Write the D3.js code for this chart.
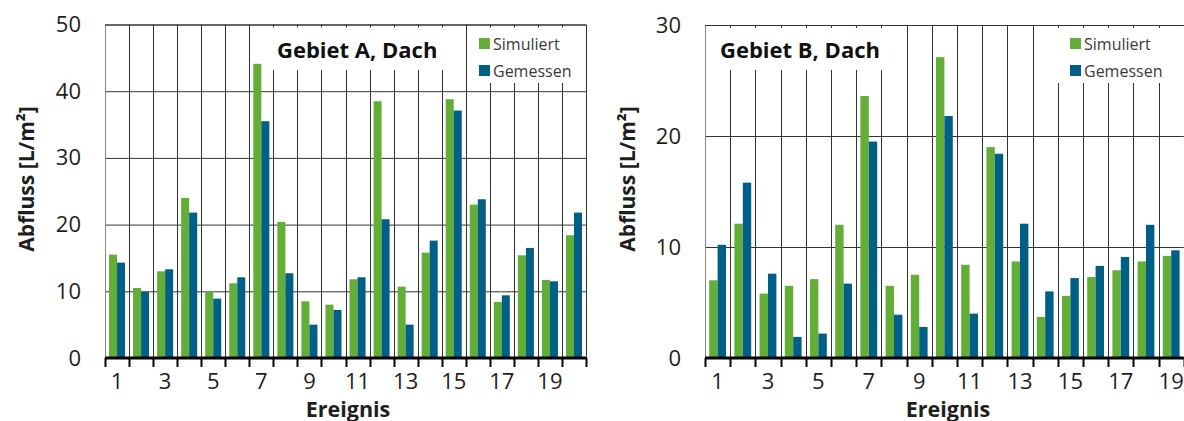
<!DOCTYPE html>
<html>
<head>
<meta charset="utf-8">
<script src="https://cdn.jsdelivr.net/npm/d3@7"></script>
<style>
  body { margin: 0; background: #fff; }
  text { font-family: "Open Sans", sans-serif; }
</style>
</head>
<body>
<svg id="canvas"></svg>
<script>
"use strict";

// Ereignis-Nummern
const ereignisA = [1, 2, 3, 4, 5, 6, 7, 8, 9, 10, 11, 12, 13, 14, 15, 16, 17, 18, 19, 20];
const ereignisB = [1, 2, 3, 4, 5, 6, 7, 8, 9, 10, 11, 12, 13, 14, 15, 16, 17, 18, 19];

// Gebiet A, Dach  [L/m2]
const simuliertA = [15.5, 10.5, 13.0, 24.0, 10.0, 11.2, 44.1, 20.4, 8.5, 8.0, 11.8, 38.5, 10.7, 15.8, 38.8, 23.0, 8.4, 15.4, 11.7, 18.4];
const gemessenA  = [14.3, 9.9, 13.3, 21.8, 8.9, 12.1, 35.5, 12.7, 5.0, 7.2, 12.1, 20.8, 5.0, 17.6, 37.1, 23.8, 9.4, 16.5, 11.5, 21.8];

// Gebiet B, Dach  [L/m2]
const simuliertB = [7.0, 12.1, 5.8, 6.5, 7.1, 12.0, 23.6, 6.5, 7.5, 27.1, 8.4, 19.0, 8.7, 3.7, 5.6, 7.3, 7.9, 8.7, 9.2];
const gemessenB  = [10.2, 15.8, 7.6, 1.9, 2.2, 6.7, 19.5, 3.9, 2.8, 21.8, 4.0, 18.4, 12.1, 6.0, 7.2, 8.3, 9.1, 12.0, 9.7];

const yTicksA = [0, 10, 20, 30, 40, 50];
const yTicksB = [0, 10, 20, 30];
const xLabels = [1, 3, 5, 7, 9, 11, 13, 15, 17, 19];

const seriesNames = ['Simuliert', 'Gemessen'];
const colors = ['#62ae37', '#005f87'];

let width = 1184;
let height = 421;
let baseline = 358;

let canvas = d3.select('#canvas')
canvas.attr('width', width)
    .attr('height', height);

let drawPanel = (p) => {
    let plotRight = p.left + p.events.length * p.step;

    let xScale = d3.scaleBand()
        .domain(p.events)
        .range([p.left, plotRight]);

    let subScale = d3.scaleBand()
        .domain([0, 1])
        .range([0, xScale.bandwidth()])
        .paddingOuter(0.5);

    let yScale = d3.scaleLinear()
        .domain([0, p.yTicks[p.yTicks.length - 1]])
        .range([baseline, p.top]);

    let g = canvas.append('g');

    // horizontale Gitterlinien
    g.selectAll('line.hgrid')
        .data(p.yTicks.slice(1))
        .enter()
        .append('line')
        .attr('class', 'hgrid')
        .attr('x1', p.left)
        .attr('x2', plotRight)
        .attr('y1', (d) => yScale(d) + 0.5)
        .attr('y2', (d) => yScale(d) + 0.5)
        .attr('stroke', '#333')
        .attr('stroke-width', 1);

    // vertikale Trennlinien zwischen den Ereignissen
    let bounds = p.events.map((e) => xScale(e)).concat(p.rightBorder ? [plotRight] : []);
    g.selectAll('line.vgrid')
        .data(bounds)
        .enter()
        .append('line')
        .attr('class', 'vgrid')
        .attr('x1', (d) => Math.round(d) + 0.5)
        .attr('x2', (d) => Math.round(d) + 0.5)
        .attr('y1', p.top)
        .attr('y2', baseline)
        .attr('stroke', (d, i) => i == 0 ? '#888' : '#333')
        .attr('stroke-width', 1);

    // weisse Felder hinter Titel und Legende
    g.append('rect')
        .attr('x', p.titleBox[0])
        .attr('y', p.top + 3)
        .attr('width', p.titleBox[1] - p.titleBox[0])
        .attr('height', 70 - p.top - 3)
        .attr('fill', '#fff');
    g.append('rect')
        .attr('x', p.legendBox[0])
        .attr('y', p.top + 3)
        .attr('width', p.legendBox[1] - p.legendBox[0])
        .attr('height', 83 - p.top - 3)
        .attr('fill', '#fff');

    // Saeulen
    let groups = g.selectAll('g.ev')
        .data(p.events)
        .enter()
        .append('g')
        .attr('class', 'ev')
        .attr('transform', (d) => 'translate(' + xScale(d) + ',0)');

    groups.selectAll('rect')
        .data((d, i) => [p.sim[i], p.mes[i]])
        .enter()
        .append('rect')
        .attr('x', (d, j) => subScale(j))
        .attr('width', subScale.bandwidth())
        .attr('y', (d) => yScale(d))
        .attr('height', (d) => baseline - yScale(d))
        .attr('fill', (d, j) => colors[j]);

    // y-Achse (Beschriftung)
    let yAxis = d3.axisLeft(yScale)
        .tickValues(p.yTicks)
        .tickSize(0)
        .tickPadding(24)
        .tickFormat(d3.format('d'));
    g.append('g')
        .attr('transform', 'translate(' + p.left + ',0)')
        .call(yAxis)
        .call((ax) => ax.select('.domain').remove())
        .selectAll('text')
        .attr('font-size', 22)
        .attr('fill', '#1e1e1e')
        .attr('font-family', '"Open Sans", sans-serif');

    // obere Rahmenlinie
    g.append('line')
        .attr('x1', p.left)
        .attr('x2', plotRight)
        .attr('y1', p.top + 0.5)
        .attr('y2', p.top + 0.5)
        .attr('stroke', '#333');

    // x-Achse
    let xAxis = d3.axisBottom(xScale)
        .tickValues(xLabels)
        .tickSize(0)
        .tickPadding(15);
    g.append('g')
        .attr('transform', 'translate(0,' + baseline + ')')
        .call(xAxis)
        .call((ax) => ax.select('.domain').remove())
        .selectAll('text')
        .attr('font-size', 22)
        .attr('fill', '#1e1e1e')
        .attr('font-family', '"Open Sans", sans-serif');

    let allBounds = p.events.map((e) => xScale(e)).concat([plotRight]);
    g.selectAll('line.xtick')
        .data(allBounds.filter((d) => d <= width))
        .enter()
        .append('line')
        .attr('class', 'xtick')
        .attr('x1', (d) => Math.round(d) + 0.5)
        .attr('x2', (d) => Math.round(d) + 0.5)
        .attr('y1', baseline)
        .attr('y2', baseline + 9)
        .attr('stroke', '#000')
        .attr('stroke-width', 2);

    g.append('line')
        .attr('x1', p.left)
        .attr('x2', plotRight)
        .attr('y1', baseline)
        .attr('y2', baseline)
        .attr('stroke', '#000')
        .attr('stroke-width', 3);

    // Achsentitel
    g.append('text')
        .attr('transform', 'translate(' + p.yTitleX + ',' + 179 + ') rotate(-90)')
        .attr('text-anchor', 'middle')
        .attr('dominant-baseline', 'central')
        .attr('font-size', 21)
        .attr('font-weight', 'bold')
        .attr('fill', '#1e1e1e')
        .text('Abfluss [L/m²]');

    g.append('text')
        .attr('x', p.xTitleX)
        .attr('y', 408)
        .attr('text-anchor', 'middle')
        .attr('dominant-baseline', 'central')
        .attr('font-size', 21.5)
        .attr('font-weight', 'bold')
        .attr('fill', '#1e1e1e')
        .text('Ereignis');

    // Titel
    g.append('text')
        .attr('x', p.titleX)
        .attr('y', 49)
        .attr('dominant-baseline', 'central')
        .attr('font-size', 22)
        .attr('font-weight', 'bold')
        .attr('fill', '#111')
        .text(p.title);

    // Legende
    let leg = g.selectAll('g.leg')
        .data(seriesNames)
        .enter()
        .append('g')
        .attr('class', 'leg')
        .attr('transform', (d, i) => 'translate(' + p.legendX + ',' + (38 + i * 27) + ')');
    leg.append('rect')
        .attr('width', 11)
        .attr('height', 11)
        .attr('fill', (d, i) => colors[i]);
    leg.append('text')
        .attr('x', 14)
        .attr('y', 6)
        .attr('dominant-baseline', 'central')
        .attr('font-size', 16)
        .attr('fill', '#3a3a3a')
        .text((d) => d);
};

drawPanel({
    events: ereignisA, sim: simuliertA, mes: gemessenA, yTicks: yTicksA,
    left: 105, step: 24.05, top: 24.5, rightBorder: true,
    title: 'Gebiet A, Dach', titleX: 277, titleBox: [270, 455],
    legendBox: [470, 585], legendX: 479,
    yTitleX: 26, xTitleX: 348
});

drawPanel({
    events: ereignisB, sim: simuliertB, mes: gemessenB, yTicks: yTicksB,
    left: 705, step: 25.2, top: 25, rightBorder: false,
    title: 'Gebiet B, Dach', titleX: 720, titleBox: [706, 895],
    legendBox: [1045, 1184], legendX: 1070,
    yTitleX: 627, xTitleX: 948
});
</script>
</body>
</html>
